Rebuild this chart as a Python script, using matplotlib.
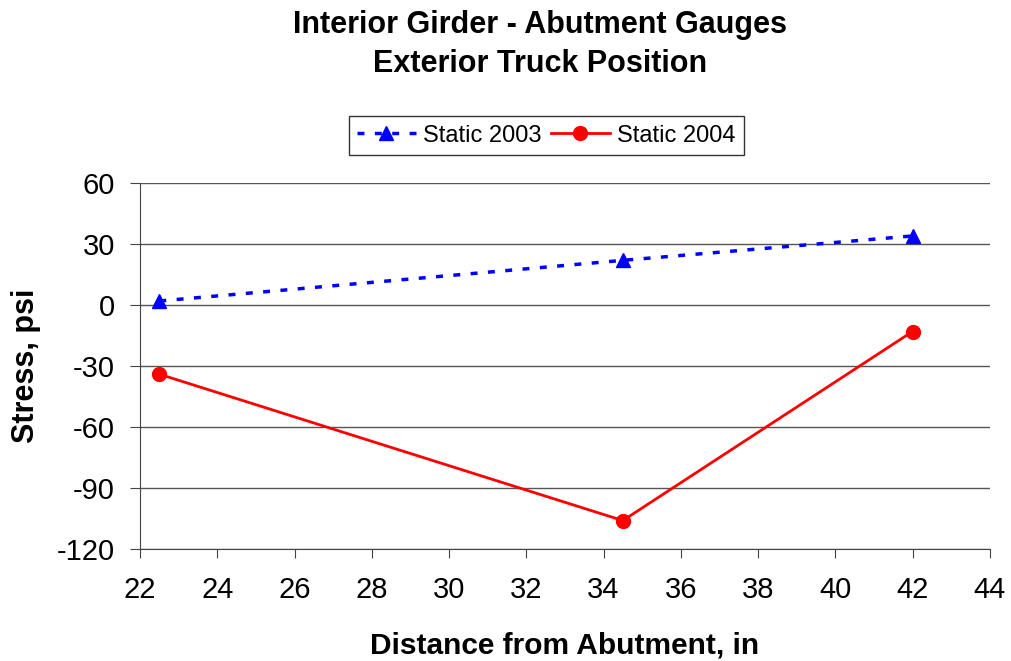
import matplotlib
matplotlib.use("Agg")
import matplotlib.pyplot as plt

plt.rcParams['font.family'] = ['Liberation Sans', 'DejaVu Sans']
plt.rcParams['axes.unicode_minus'] = False

# data
distance = [22.5, 34.5, 42]
static_2003 = [2, 22, 34]
static_2004 = [-34, -106, -13]

fig = plt.figure(figsize=(10.11, 6.61), dpi=100)
ax = fig.add_axes([0.1385, 0.1694, 0.8405, 0.5536])

ax.plot(distance, static_2003, color='blue', linestyle=(0, (2, 3)), linewidth=2.5,
        marker='^', markersize=10, label='Static 2003')
ax.plot(distance, static_2004, color='red', linestyle='-', linewidth=2,
        marker='o', markersize=10, label='Static 2004')

ax.set_xlim(22, 44)
ax.set_ylim(-120, 60)
ax.set_xticks(range(22, 45, 2))
ax.set_yticks(range(-120, 61, 30))
ax.yaxis.grid(True, color='#555555', linewidth=1)
ax.set_axisbelow(True)
for s in ['top', 'right']:
    ax.spines[s].set_visible(False)
ax.spines['left'].set_color('#444444')
ax.spines['bottom'].set_color('#444444')
ax.tick_params(axis='both', labelsize=21, color='#444444', direction='out')
ax.tick_params(axis='x', length=6.5, pad=13)
ax.tick_params(axis='y', length=7.2, pad=10.8)

ax.set_xlabel('Distance from Abutment, in', fontsize=21.5, fontweight='bold', labelpad=20)
ax.set_ylabel('Stress, psi', fontsize=22, fontweight='bold', labelpad=11.5)

fig.suptitle('Interior Girder - Abutment Gauges\nExterior Truck Position', fontsize=22,
             fontweight='bold', x=0.534, y=0.985, linespacing=1.4)

leg = ax.legend(loc='center', bbox_to_anchor=(0.478, 1.13), ncol=2, fontsize=17,
                frameon=True, fancybox=False, edgecolor='black', handlelength=2.5,
                handletextpad=0.3, columnspacing=0.4, borderpad=0.35)
leg.get_frame().set_linewidth(1)

fig.savefig('out.png', dpi=100)
